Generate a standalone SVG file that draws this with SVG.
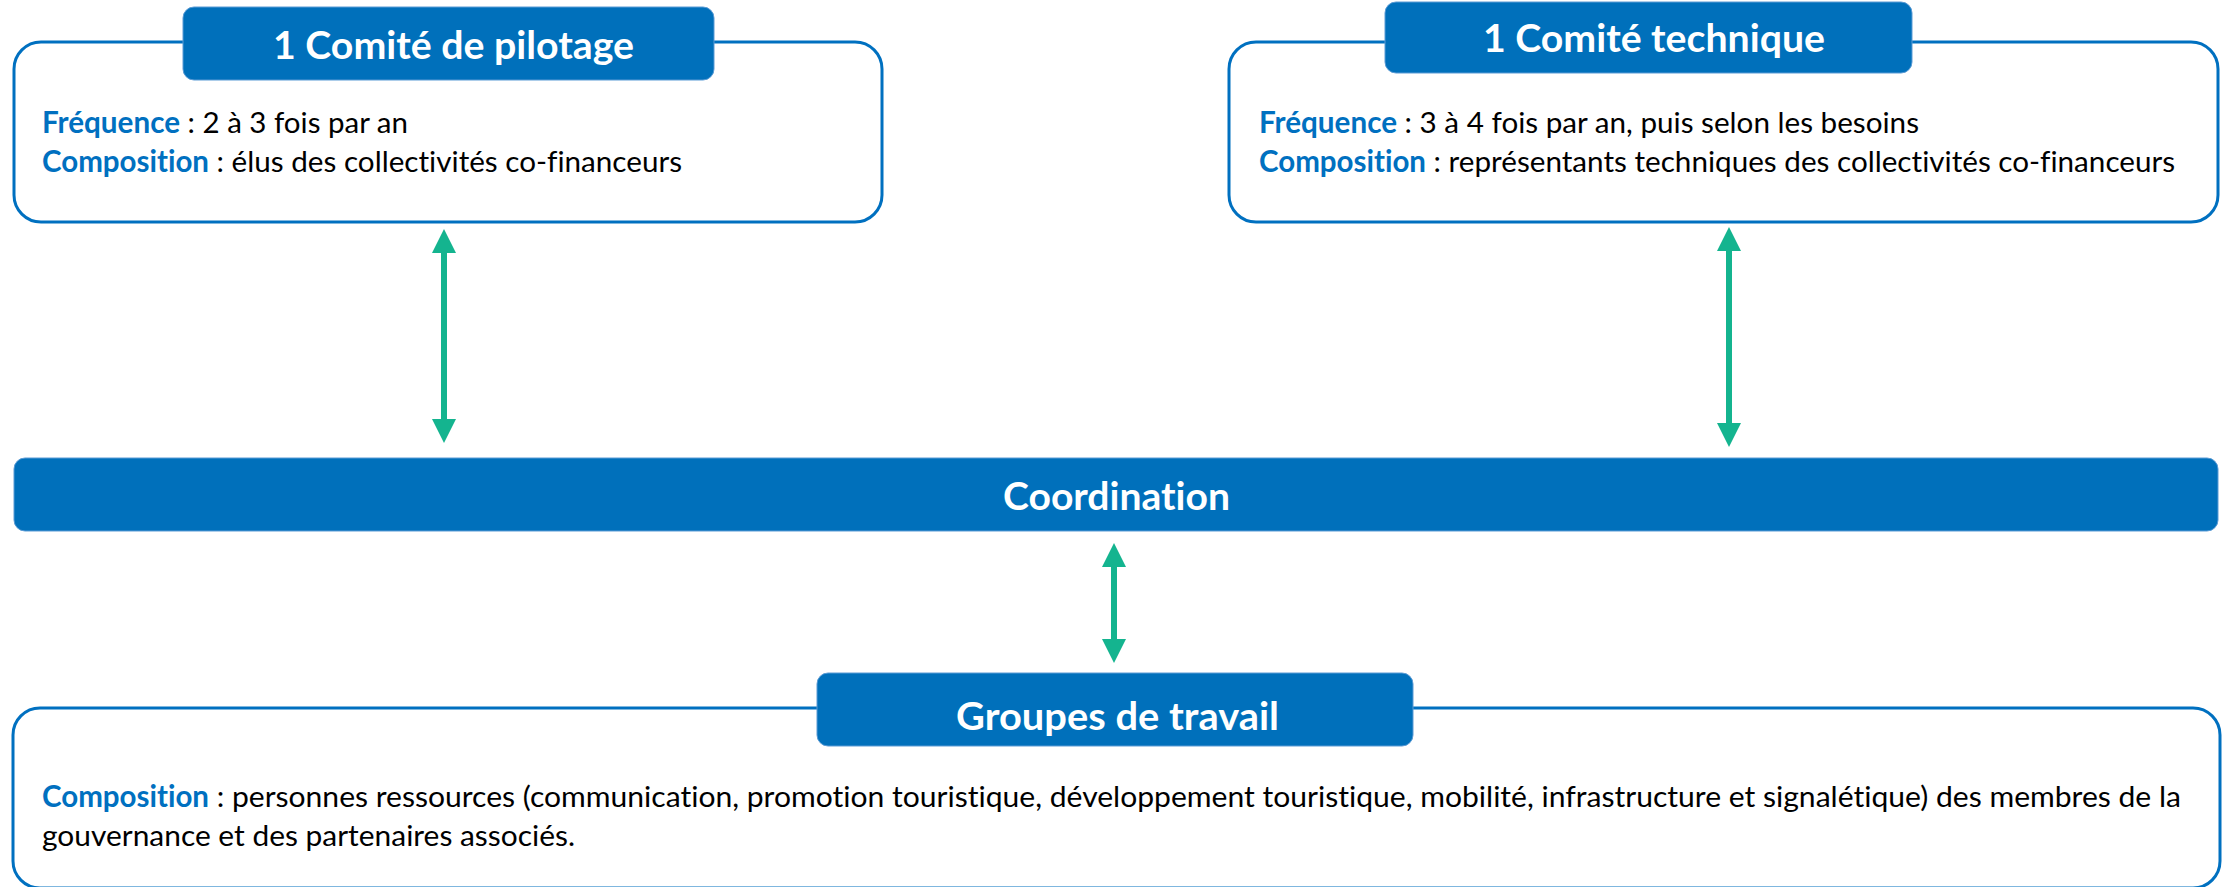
<svg xmlns="http://www.w3.org/2000/svg" width="2226" height="887" viewBox="0 0 2226 887">
  <style>
    .box { fill: #ffffff; stroke: #0070C0; stroke-width: 3; }
    .head { fill: #0070BB; stroke: #5B9BD5; stroke-width: 1; }
    .title { font-family: Lato, "Open Sans", sans-serif; font-weight: bold; font-size: 39px; fill: #ffffff; font-variant-ligatures: none; }
    .body { font-family: Lato, "Open Sans", sans-serif; font-size: 29.5px; fill: #000000; font-variant-ligatures: none; }
    .lbl { font-weight: bold; fill: #0070C0; }
    .conn { stroke: #14B48F; stroke-width: 6; fill: none; marker-start: url(#ah); marker-end: url(#ah); }
  </style>
  <defs>
    <marker id="ah" markerUnits="userSpaceOnUse" markerWidth="24" markerHeight="24" viewBox="0 0 24 24" refX="4" refY="12" orient="auto-start-reverse">
      <path d="M0,0 L24,12 L0,24 z" fill="#14B48F"/>
    </marker>
  </defs>

  <g id="comite-pilotage">
    <rect class="box" x="14" y="42" width="868" height="180" rx="27" ry="27"/>
    <rect class="head" x="183" y="7" width="531" height="73" rx="11" ry="11"/>
    <text class="title" x="273" y="59" textLength="361" lengthAdjust="spacingAndGlyphs">1 Comité de pilotage</text>
    <text class="body" y="133"><tspan class="lbl" x="42" textLength="138" lengthAdjust="spacingAndGlyphs">Fréquence</tspan><tspan x="180" textLength="228" lengthAdjust="spacingAndGlyphs"> : 2 à 3 fois par an</tspan></text>
    <text class="body" y="172"><tspan class="lbl" x="42" textLength="167" lengthAdjust="spacingAndGlyphs">Composition</tspan><tspan x="209" textLength="473" lengthAdjust="spacingAndGlyphs"> : élus des collectivités co-financeurs</tspan></text>
  </g>

  <g id="comite-technique">
    <rect class="box" x="1229" y="42" width="989" height="180" rx="27" ry="27"/>
    <rect class="head" x="1385" y="2" width="527" height="71" rx="11" ry="11"/>
    <text class="title" x="1483" y="52" textLength="342" lengthAdjust="spacingAndGlyphs">1 Comité technique</text>
    <text class="body" y="133"><tspan class="lbl" x="1259" textLength="138" lengthAdjust="spacingAndGlyphs">Fréquence</tspan><tspan x="1397" textLength="522" lengthAdjust="spacingAndGlyphs"> : 3 à 4 fois par an, puis selon les besoins</tspan></text>
    <text class="body" y="172"><tspan class="lbl" x="1259" textLength="167" lengthAdjust="spacingAndGlyphs">Composition</tspan><tspan x="1426" textLength="749" lengthAdjust="spacingAndGlyphs"> : représentants techniques des collectivités co-financeurs</tspan></text>
  </g>

  <g id="coordination">
    <rect class="head" x="14" y="458" width="2204" height="73" rx="11" ry="11"/>
    <text class="title" x="1003" y="510" textLength="227" lengthAdjust="spacingAndGlyphs">Coordination</text>
  </g>

  <g id="groupes-travail">
    <rect class="box" x="13" y="708" width="2207" height="180" rx="27" ry="27"/>
    <rect class="head" x="817" y="673" width="596" height="73" rx="11" ry="11"/>
    <text class="title" x="956" y="730" textLength="323" lengthAdjust="spacingAndGlyphs">Groupes de travail</text>
    <text class="body" y="807"><tspan class="lbl" x="42" textLength="167" lengthAdjust="spacingAndGlyphs">Composition</tspan><tspan x="209" textLength="1972" lengthAdjust="spacingAndGlyphs"> : personnes ressources (communication, promotion touristique, développement touristique, mobilité, infrastructure et signalétique) des membres de la</tspan></text>
    <text class="body" x="42" y="846" textLength="533" lengthAdjust="spacingAndGlyphs">gouvernance et des partenaires associés.</text>
  </g>

  <g id="connectors">
    <line class="conn" x1="444" y1="249" x2="444" y2="423"/>
    <line class="conn" x1="1729" y1="247" x2="1729" y2="427"/>
    <line class="conn" x1="1114" y1="563" x2="1114" y2="643"/>
  </g>
</svg>
